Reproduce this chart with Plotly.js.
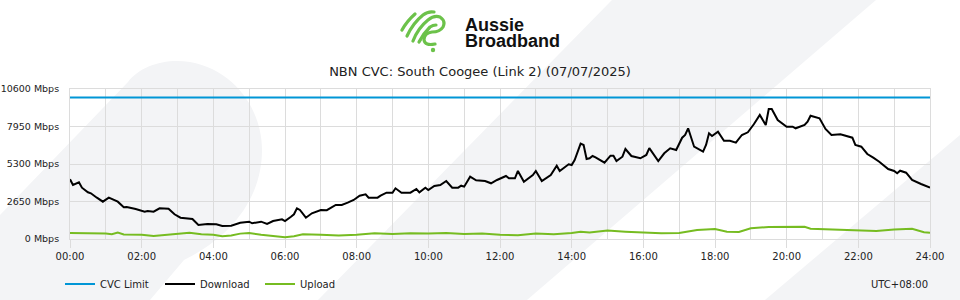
<!DOCTYPE html>
<html>
<head>
<meta charset="utf-8">
<script src="https://cdn.plot.ly/plotly-3.0.1.min.js"></script>
<style>html,body{margin:0;padding:0;background:#fff;}#chart{width:960px;height:300px;}</style>
</head>
<body>
<div id="chart"></div>
<script>
// ---- data ----
var chartTitle = "NBN CVC: South Coogee (Link 2) (07/07/2025)";
var timezoneLabel = "UTC+08:00";
var xTickHours = [0,2,4,6,8,10,12,14,16,18,20,22,24];
var xTickLabels = ["00:00","02:00","04:00","06:00","08:00","10:00","12:00","14:00","16:00","18:00","20:00","22:00","24:00"];
var yTickValues = [0,2650,5300,7950,10600];
var yTickLabels = ["0 Mbps","2650 Mbps","5300 Mbps","7950 Mbps","10600 Mbps"];

var cvcTimes = ["00:00","24:00"];
var cvcLimit = [10000,10000];

var downloadTimes = ["00:00","00:05","00:15","00:20","00:30","00:35","00:45","00:55","01:05","01:20","01:30","01:35","01:50","02:05","02:10","02:20","02:30","02:45","02:55","03:05","03:25","03:35","03:50","04:05","04:15","04:30","04:45","05:00","05:05","05:20","05:30","05:40","05:55","06:00","06:10","06:15","06:20","06:25","06:35","06:45","07:00","07:10","07:25","07:35","07:45","07:55","08:05","08:15","08:20","08:35","08:40","08:50","09:00","09:05","09:15","09:30","09:40","09:45","09:55","10:00","10:10","10:20","10:30","10:40","10:50","10:55","11:00","11:10","11:20","11:35","11:45","11:55","12:10","12:15","12:25","12:30","12:40","12:55","13:00","13:10","13:25","13:35","13:40","13:55","14:00","14:05","14:15","14:20","14:25","14:30","14:35","14:40","14:55","15:05","15:10","15:15","15:25","15:30","15:40","15:55","16:05","16:10","16:25","16:35","16:45","16:55","17:05","17:10","17:15","17:20","17:25","17:40","17:45","17:50","17:55","18:05","18:15","18:25","18:35","18:45","18:55","19:05","19:15","19:25","19:30","19:35","19:45","20:00","20:10","20:15","20:30","20:35","20:40","20:55","21:05","21:15","21:25","21:30","21:50","21:55","22:05","22:15","22:25","22:35","22:50","23:00","23:05","23:10","23:20","23:30","23:45","24:00"];
var downloadMbps = [4219,3816,4007,3625,3300,3230,2919,2636,2919,2636,2240,2261,2120,1929,1979,1929,2170,2141,1746,1505,1413,989,1060,1039,919,940,1152,1223,1110,1223,1060,1272,1392,1272,1576,1746,2170,2049,1505,1816,2049,2040,2403,2403,2565,2756,3060,3159,2919,2919,3060,3272,3272,3583,3272,3272,3534,3300,3625,3463,3745,3816,4099,3625,3625,3767,3700,4403,4148,4099,3936,4170,4452,4290,4290,4806,4050,4523,4806,4099,4523,5180,4806,5279,5230,5583,6735,6643,5654,5703,5866,5774,5392,5887,5887,5512,5816,6360,5866,5703,5936,6420,5512,6056,6410,6290,7159,7350,7823,7230,6523,6170,6643,7470,7279,7583,6947,6947,6806,7350,7540,8106,8763,8056,9187,9187,8410,7936,7936,7823,8056,8290,8714,8530,7774,7350,7350,7399,7159,6643,6523,6007,5745,5463,4947,4806,4643,4827,4685,4170,3887,3625];

var uploadTimes = ["00:00","00:30","01:00","01:10","01:20","01:30","02:00","02:20","02:40","03:00","03:20","03:40","04:00","04:15","04:30","04:45","05:00","05:20","05:45","06:00","06:15","06:30","07:00","07:30","08:00","08:30","09:00","09:30","10:00","10:30","11:00","11:30","12:00","12:30","13:00","13:30","14:00","14:15","14:30","15:00","15:30","16:00","16:30","17:00","17:30","18:00","18:20","18:40","19:00","19:30","20:00","20:30","20:40","21:00","21:30","22:00","22:30","23:00","23:30","23:50","24:00"];
var uploadMbps = [420,410,380,330,450,320,300,220,280,330,440,330,300,200,250,380,430,300,180,130,200,330,300,250,300,400,350,400,380,420,350,380,300,270,380,330,420,520,460,600,520,470,400,420,640,700,520,500,760,850,870,860,720,700,650,600,560,680,720,480,450];

// ---- helpers ----
function toHours(t){ var p = t.split(":"); return +p[0] + (+p[1])/60; }
var L = 70, R = 930, T = 89, B = 239;
function px(x){ return (x - L)/(R - L); }
function py(y){ return (B - y)/(B - T); }
function pathFromPx(pts){
  return "M" + pts.map(function(p){ return px(p[0]).toFixed(4) + "," + py(p[1]).toFixed(4); }).join(" L") + " Z";
}

var GRID = "#dcdcdc";
var FONT = "DejaVu Sans, sans-serif";

var traces = [
  {x: cvcTimes.map(toHours), y: cvcLimit, name: "CVC Limit", type: "scatter", mode: "lines",
   line: {color: "#0096d6", width: 2}, hoverinfo: "skip"},
  {x: downloadTimes.map(toHours), y: downloadMbps, name: "Download", type: "scatter", mode: "lines",
   line: {color: "#000000", width: 2}},
  {x: uploadTimes.map(toHours), y: uploadMbps, name: "Upload", type: "scatter", mode: "lines",
   line: {color: "#76bc21", width: 2}}
];

// decorative background bands (pixel outlines)
var leaf = "M" + px(0) + "," + py(215) +
  " L" + px(128) + "," + py(82) +
  " C" + px(140) + "," + py(66) + " " + px(165) + "," + py(58) + " " + px(190) + "," + py(62) +
  " C" + px(235) + "," + py(70) + " " + px(262) + "," + py(110) + " " + px(262) + "," + py(150) +
  " C" + px(262) + "," + py(195) + " " + px(235) + "," + py(235) + " " + px(184) + "," + py(260) +
  " L" + px(150) + "," + py(300) + " L" + px(0) + "," + py(300) + " Z";
var band2 = pathFromPx([[318,300],[612,0],[876,0],[527,300]]);
var band3 = pathFromPx([[765,300],[960,135],[960,300]]);
var bg = "#f3f4f6";

var logoSvg = '<svg xmlns="http://www.w3.org/2000/svg" width="48" height="44" viewBox="0 0 48 44">' +
  '<g fill="none" stroke="#6cc24a" stroke-width="3.2" stroke-linecap="round" stroke-linejoin="round">' +
  '<path d="M2,21 Q7,12 15,5"/>' +
  '<path d="M7,27 Q13,14 23,6 Q28,2 34,3"/>' +
  '<path d="M13,32 Q18,19 28,11 Q34,6 40,8 Q46,12 43,18 Q40,23 32,23 Q24,24 24,31 Q25,37 35,35"/>' +
  '<path d="M19,33 Q23,25 30,18 Q33,16 36,16"/>' +
  '</g><circle cx="33" cy="41" r="2.2" fill="#6cc24a"/></svg>';

var layout = {
  width: 960, height: 300,
  margin: {l: L, r: 960 - R, t: T, b: 300 - B, autoexpand: false},
  paper_bgcolor: "#ffffff",
  plot_bgcolor: "rgba(0,0,0,0)",
  font: {family: FONT, size: 10, color: "#222"},
  title: {text: chartTitle, font: {family: FONT, size: 13, color: "#222"},
          x: 0.5, xanchor: "center", yref: "container", y: 1 - 71/300, yanchor: "middle"},
  showlegend: true,
  legend: {orientation: "h", x: px(60), xanchor: "left", y: py(284), yanchor: "middle",
           font: {family: FONT, size: 10, color: "#222"}, bgcolor: "rgba(0,0,0,0)",
           entrywidth: 55, entrywidthmode: "pixels", itemclick: false},
  xaxis: {range: [0, 24], tickmode: "array", tickvals: xTickHours, ticktext: xTickLabels,
          showgrid: true, gridcolor: GRID, gridwidth: 1, zeroline: false,
          showline: true, linecolor: GRID, linewidth: 1, mirror: true,
          ticks: "outside", ticklen: 8, tickcolor: GRID, tickfont: {family: FONT, size: 10, color: "#222"},
          minor: {tickmode: "linear", tick0: 0, dtick: 1, showgrid: true, gridcolor: GRID, gridwidth: 1, ticks: ""},
          fixedrange: true},
  yaxis: {range: [0, 10600], tickmode: "array", tickvals: yTickValues, ticktext: yTickLabels,
          showgrid: true, gridcolor: GRID, gridwidth: 1, zeroline: false,
          showline: true, linecolor: GRID, linewidth: 1, mirror: true,
          ticks: "outside", ticklen: 8, tickcolor: "rgba(0,0,0,0)", tickfont: {family: FONT, size: 9.5, color: "#222"},
          fixedrange: true},
  shapes: [
    {type: "path", xref: "paper", yref: "paper", path: leaf, fillcolor: bg, line: {width: 0}, layer: "below"},
    {type: "path", xref: "paper", yref: "paper", path: band2, fillcolor: bg, line: {width: 0}, layer: "below"},
    {type: "path", xref: "paper", yref: "paper", path: band3, fillcolor: bg, line: {width: 0}, layer: "below"}
  ],
  images: [
    {source: "data:image/svg+xml;charset=utf-8," + encodeURIComponent(logoSvg), xref: "paper", yref: "paper",
     x: px(400), y: py(9), sizex: 48/(R-L), sizey: 44/(B-T), xanchor: "left", yanchor: "top",
     sizing: "stretch", layer: "above"}
  ],
  annotations: [
    {text: "<b>Aussie</b>", xref: "paper", yref: "paper", x: px(463), y: py(25), xanchor: "left", yanchor: "middle",
     height: 15, valign: "middle",
     showarrow: false, font: {family: "Liberation Sans, Arial, sans-serif", size: 18, color: "#111"}},
    {text: "<b>Broadband</b>", xref: "paper", yref: "paper", x: px(463), y: py(40), xanchor: "left", yanchor: "middle",
     height: 15, valign: "middle",
     showarrow: false, font: {family: "Liberation Sans, Arial, sans-serif", size: 18, color: "#111"}},
    {text: timezoneLabel, xref: "paper", yref: "paper", x: px(930), y: py(284), xanchor: "right", yanchor: "middle",
     showarrow: false, font: {family: FONT, size: 10, color: "#222"}}
  ]
};

Plotly.newPlot("chart", traces, layout, {displayModeBar: false, staticPlot: true});
</script>
</body>
</html>
